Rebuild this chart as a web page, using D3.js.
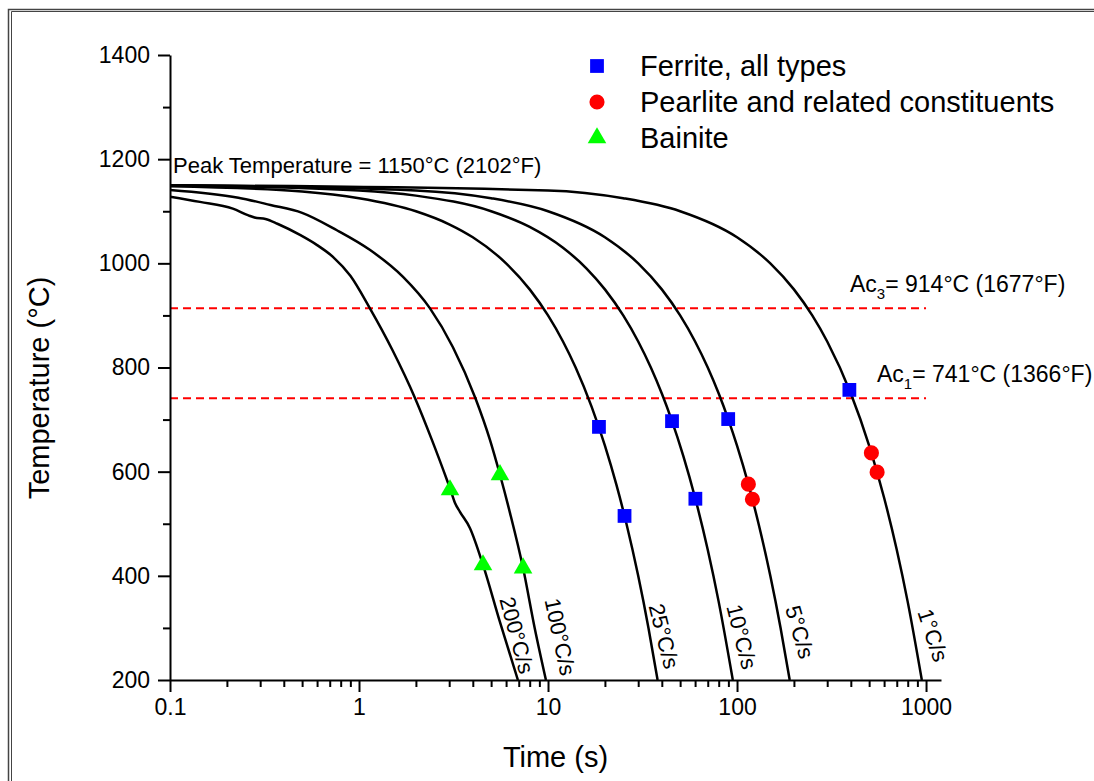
<!DOCTYPE html>
<html>
<head>
<meta charset="utf-8">
<script src="https://cdn.jsdelivr.net/npm/d3@7"></script>
<style>
	body { margin: 0; background: #fff; overflow: hidden; }
	svg { display: block; }
	svg text { font-family: "Liberation Sans", Arial, sans-serif; fill: #000; }
</style>
</head>
<body>
<script>
// cooling curves, [time (s), temperature (°C)]
var curve200 = [[0.1,1128],[0.144,1118],[0.215,1105],[0.26,1092],[0.28,1088],[0.32,1085],[0.37,1076],[0.49,1054],[0.6,1035],[0.73,1012],[0.9,976],[1.14,914],[1.5,834],[1.98,741],[2.43,661],[2.92,584],[3.03,568],[3.22,540],[3.42,523],[3.86,492],[4.53,421],[5.57,311],[6.93,200]];
var curve100 = [[0.1,1141],[0.23,1126],[0.34,1112],[0.5,1097],[0.76,1064],[1.14,1026],[1.71,974],[2.37,914],[3.14,839],[4.13,741],[4.93,661],[5.57,594],[6.3,520],[7.38,415],[8.5,300],[9.75,200]];
var curve25 = [[0.1,1148],[0.5,1138],[1,1125],[2,1100],[3,1075],[4,1050],[6,1000],[8,950],[10,900],[12,850],[14,800],[17,725],[20,650],[23,575],[26,500],[30,400],[34,300],[38,200]];
var curve10 = [[0.1,1150],[1,1140],[2,1130],[5,1100],[8,1070],[12,1030],[16,990],[20,950],[25,900],[30,850],[35,800],[40,750],[45,700],[52,630],[60,550],[70,450],[80,350],[95,200]];
var curve5 = [[0.1,1150],[2,1140],[5,1125],[10,1100],[20,1050],[30,1000],[40,950],[50,900],[60,850],[70,800],[80,750],[90,700],[100,650],[115,575],[130,500],[150,400],[170,300],[190,200]];
var curve1 = [[0.1,1150],[10,1140],[25,1125],[50,1100],[100,1050],[150,1000],[200,950],[250,900],[300,850],[400,750],[500,650],[600,550],[700,450],[800,350],[950,200]];

var curves = [curve200, curve100, curve25, curve10, curve5, curve1];
var rateLabels = ["200°C/s", "100°C/s", "25°C/s", "10°C/s", "5°C/s", "1°C/s"];
// where each rate label sits, [time, temperature]
var rateLabelAt = [[6.85,286],[11.6,283],[41.1,284],[106,283],[215,292],[1089,286]];
var rateLabelAngle = [75, 78, 76, 76, 74, 72];

// microstructure start points
var ferrite = [[18.6,686],[25.4,515],[45.3,697],[60.2,548],[89.8,701],[393,757]];
var pearlite = [[114.8,576],[120.6,547],[514,636],[551,599]];
var bainite = [[3.03,565],[4.53,421],[5.57,594],[7.38,415]];

var legendNames = ["Ferrite, all types", "Pearlite and related constituents", "Bainite"];

var peakTemp = 1150;
var ac3 = 914, ac1 = 741;

var yMajor = [200, 400, 600, 800, 1000, 1200, 1400];
var yMinor = [300, 500, 700, 900, 1100, 1300];
var xMajor = [0.1, 1, 10, 100, 1000];
var xMinor = [0.2,0.3,0.4,0.5,0.6,0.7,0.8,0.9,2,3,4,5,6,7,8,9,20,30,40,50,60,70,80,90,200,300,400,500,600,700,800,900];

var W = 1094, H = 781;

var svg = d3.select("body").append("svg")
	.attr("width", W)
	.attr("height", H);

// frame round the picture (left and top only)
svg.append("path")
	.attr("d", "M8.5," + H + "V9.5H" + W)
	.attr("fill", "none").attr("stroke", "#444").attr("stroke-width", 1.5);
svg.append("path")
	.attr("d", "M11.5," + H + "V11.5H" + W)
	.attr("fill", "none").attr("stroke", "#444").attr("stroke-width", 1);

var x = d3.scaleLog().domain([0.1, 1200]).range([170, 941]);
var y = d3.scaleLinear().domain([200, 1400]).range([680, 55]);

svg.append("defs").append("clipPath").attr("id", "plotClip")
	.append("rect").attr("x", 170).attr("y", 55).attr("width", 771).attr("height", 625);

// critical temperatures
svg.append("g").selectAll("line")
	.data([ac3, ac1]).enter().append("line")
		.attr("x1", x(0.1)).attr("x2", x(1000))
		.attr("y1", function(d){ return y(d); })
		.attr("y2", function(d){ return y(d); })
		.attr("stroke", "#ff0000")
		.attr("stroke-width", 2)
		.attr("stroke-dasharray", "8,5");

// cooling curves
var line = d3.line()
	.x(function(d){ return x(d[0]); })
	.y(function(d){ return y(d[1]); })
	.curve(d3.curveMonotoneX);

svg.append("g").attr("clip-path", "url(#plotClip)")
	.selectAll("path")
	.data(curves).enter().append("path")
		.attr("d", line)
		.attr("fill", "none")
		.attr("stroke", "#000")
		.attr("stroke-width", 2.5);

// rate labels
svg.append("g").selectAll("text")
	.data(rateLabels).enter().append("text")
		.attr("transform", function(d, i){
			var p = rateLabelAt[i];
			return "translate(" + x(p[0]) + "," + y(p[1]) + ")rotate(" + rateLabelAngle[i] + ")";
		})
		.attr("text-anchor", "middle")
		.attr("dy", "0.35em")
		.style("font-size", "22px")
		.text(function(d){ return d; });

// axes
var yAxis = svg.append("g").attr("transform", "translate(170,0)")
	.call(d3.axisLeft(y).tickValues(yMajor).tickSize(12).tickSizeOuter(0).tickPadding(8)
		.tickFormat(d3.format("d")));
var yAxisMinor = svg.append("g").attr("transform", "translate(170,0)")
	.call(d3.axisLeft(y).tickValues(yMinor).tickSize(7).tickFormat(""));
yAxisMinor.select(".domain").remove();

var xAxis = svg.append("g").attr("transform", "translate(0,680)")
	.call(d3.axisBottom(x).tickValues(xMajor).tickSize(12).tickSizeOuter(0).tickPadding(7)
		.tickFormat(function(d){ return d < 1 ? "0.1" : String(d); }));
var xAxisMinor = svg.append("g").attr("transform", "translate(0,680)")
	.call(d3.axisBottom(x).tickValues(xMinor).tickSize(7).tickFormat(""));
xAxisMinor.select(".domain").remove();

svg.selectAll(".domain, .tick line").attr("stroke", "#000").attr("stroke-width", 2);
svg.selectAll(".tick text").style("font-size", "23px").attr("fill", "#000");

// axis titles
svg.append("text")
	.attr("transform", "translate(49,388)rotate(-90)")
	.attr("text-anchor", "middle")
	.style("font-size", "29px")
	.text("Temperature (°C)");

svg.append("text")
	.attr("x", (x(0.1) + x(1200)) / 2)
	.attr("y", 767)
	.attr("text-anchor", "middle")
	.style("font-size", "29px")
	.text("Time (s)");

// annotations
svg.append("text")
	.attr("x", x(0.1) + 3)
	.attr("y", y(peakTemp) - 12)
	.style("font-size", "22px")
	.text("Peak Temperature = 1150°C (2102°F)");

function acLabel(xp, yp, sub, rest){
	var t = svg.append("text").attr("x", xp).attr("y", yp).style("font-size", "23px");
	t.append("tspan").text("Ac");
	t.append("tspan").attr("dy", 7).style("font-size", "15px").text(sub);
	t.append("tspan").attr("dy", -7).text(rest);
}
acLabel(850, y(ac3) - 16, "3", "= 914°C (1677°F)");
acLabel(877, y(ac1) - 16, "1", "= 741°C (1366°F)");

// markers
var sq = d3.symbol().type(d3.symbolSquare).size(190);
var circ = d3.symbol().type(d3.symbolCircle).size(180);
var tri = d3.symbol().type(d3.symbolTriangle).size(150);

function drawPoints(data, sym, colour){
	svg.append("g").selectAll("path")
		.data(data).enter().append("path")
			.attr("transform", function(d){ return "translate(" + x(d[0]) + "," + y(d[1]) + ")"; })
			.attr("d", sym)
			.attr("fill", colour);
}
drawPoints(ferrite, sq, "#0000ff");
drawPoints(pearlite, circ, "#ff0000");
drawPoints(bainite, tri, "#00ff00");

// legend
var legendSyms = [sq, circ, tri];
var legendCols = ["#0000ff", "#ff0000", "#00ff00"];
var legend = svg.append("g").selectAll("g")
	.data(legendNames).enter().append("g")
		.attr("transform", function(d, i){ return "translate(597," + (66 + i * 36) + ")"; });
legend.append("path")
	.attr("d", function(d, i){ return legendSyms[i](); })
	.attr("fill", function(d, i){ return legendCols[i]; });
legend.append("text")
	.attr("x", 43)
	.attr("dy", "0.36em")
	.style("font-size", "29px")
	.text(function(d){ return d; });
</script>
</body>
</html>
